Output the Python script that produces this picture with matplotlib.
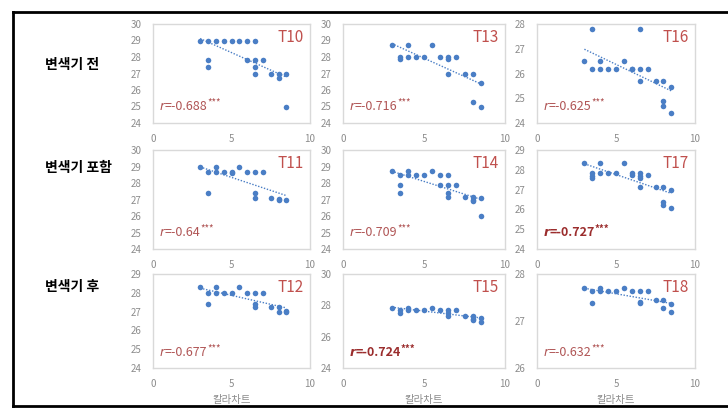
import matplotlib.pyplot as plt
import numpy as np
from matplotlib.lines import Line2D

plt.rcParams["font.family"] = ["Noto Sans CJK KR", "DejaVu Sans"]

ROW_LABELS = ["변색기 전", "변색기 포함", "변색기 후"]
PANEL_NAMES = [["T10", "T13", "T16"], ["T11", "T14", "T17"], ["T12", "T15", "T18"]]
R_LABELS = [["-0.688", "-0.716", "-0.625"], ["-0.64", "-0.709", "-0.727"], ["-0.677", "-0.724", "-0.632"]]
R_BOLD = [[False, False, False], [False, False, True], [False, True, False]]
Y_RANGES = [[(24, 30, 1), (24, 30, 1), (24, 28, 1)],
            [(24, 30, 1), (24, 30, 1), (24, 29, 1)],
            [(24, 29, 1), (24, 30, 2), (26, 28, 1)]]

X_T10 = [3, 3.5, 4, 4.5, 5, 5.5, 6, 6.5, 3.5, 3.5, 6, 6.5, 6.5, 6.5, 7, 7.5, 8, 8, 8.5, 8.5]
Y_T10 = [29, 29, 29, 29, 29, 29, 29, 29, 27.8, 27.4, 27.8, 27.8, 27.4, 27.0, 27.8, 27.0, 27.0, 26.7, 27.0, 25.0]

X_T13 = [3, 3.5, 3.5, 4, 4, 4.5, 5, 5.5, 6, 6.5, 6.5, 6.5, 7, 7.5, 8, 8, 8.5, 8.5]
Y_T13 = [28.7, 28.0, 27.9, 28.7, 28.0, 28.0, 28.0, 28.7, 28.0, 28.0, 27.9, 27.0, 28.0, 27.0, 27.0, 25.3, 26.4, 25.0]

X_T16 = [3, 3.5, 3.5, 4, 4, 4.5, 5, 5.5, 6, 6, 6.5, 6.5, 6.5, 7, 7.5, 8, 8, 8, 8.5, 8.5]
Y_T16 = [26.5, 27.8, 26.2, 26.5, 26.2, 26.2, 26.2, 26.5, 26.2, 26.2, 27.8, 26.2, 25.7, 26.2, 25.7, 25.7, 24.9, 24.7, 25.45, 24.4]

X_T11 = [3, 3.5, 3.5, 4, 4, 4.5, 5, 5, 5.5, 6, 6.5, 6.5, 6.5, 7, 7.5, 8, 8, 8.5]
Y_T11 = [29.0, 28.65, 27.4, 29.0, 28.65, 28.65, 28.65, 28.6, 29.0, 28.65, 28.65, 27.4, 27.1, 28.65, 27.1, 27.05, 27.0, 27.0]

X_T14 = [3, 3.5, 3.5, 3.5, 4, 4, 4.5, 5, 5.5, 6, 6, 6.5, 6.5, 6.5, 6.5, 7, 7.5, 8, 8, 8, 8.5, 8.5]
Y_T14 = [28.7, 28.5, 27.9, 27.4, 28.7, 28.5, 28.5, 28.5, 28.7, 28.5, 27.9, 28.5, 27.9, 27.4, 27.15, 27.9, 27.15, 27.15, 27.0, 26.9, 27.1, 26.0]

X_T17 = [3, 3.5, 3.5, 3.5, 4, 4, 4.5, 5, 5.5, 6, 6, 6.5, 6.5, 6.5, 6.5, 7, 7.5, 8, 8, 8, 8.5, 8.5]
Y_T17 = [28.35, 27.85, 27.7, 27.6, 28.35, 27.85, 27.85, 27.85, 28.35, 27.85, 27.75, 27.85, 27.7, 27.6, 27.15, 27.75, 27.15, 27.15, 26.35, 26.2, 27.0, 26.05]

X_T12 = [3, 3.5, 3.5, 4, 4, 4.5, 5, 5.5, 6, 6.5, 6.5, 6.5, 7, 7.5, 8, 8, 8.5, 8.5]
Y_T12 = [28.3, 28.0, 27.4, 28.3, 28.0, 28.0, 28.0, 28.3, 28.0, 28.0, 27.4, 27.25, 28.0, 27.25, 27.25, 27.0, 27.05, 27.0]

X_T15 = [3, 3.5, 3.5, 4, 4, 4.5, 5, 5.5, 6, 6.5, 6.5, 6.5, 7, 7.5, 8, 8, 8, 8.5, 8.5]
Y_T15 = [27.85, 27.7, 27.5, 27.85, 27.7, 27.7, 27.7, 27.85, 27.7, 27.7, 27.5, 27.3, 27.7, 27.3, 27.3, 27.1, 27.05, 27.2, 26.95]

X_T18 = [3, 3.5, 3.5, 4, 4, 4.5, 5, 5.5, 6, 6.5, 6.5, 6.5, 7, 7.5, 8, 8, 8.5, 8.5]
Y_T18 = [27.7, 27.64, 27.39, 27.7, 27.64, 27.64, 27.64, 27.7, 27.64, 27.64, 27.41, 27.38, 27.64, 27.44, 27.44, 27.28, 27.37, 27.2]

DATA = {
    "T10": (X_T10, Y_T10), "T13": (X_T13, Y_T13), "T16": (X_T16, Y_T16),
    "T11": (X_T11, Y_T11), "T14": (X_T14, Y_T14), "T17": (X_T17, Y_T17),
    "T12": (X_T12, Y_T12), "T15": (X_T15, Y_T15), "T18": (X_T18, Y_T18),
}

W, H = 728, 419
DOT = "#4A7EC5"
TITLE_RED = "#C0504D"
TICK_GRAY = "#8C8C8C"

# axes boxes in pixels (left, right) and (top, bottom)
COLS_PX = [(153, 310), (343, 505), (537, 695)]
ROWS_PX = [(24, 123), (150, 249), (274, 368)]

fig = plt.figure(figsize=(W / 100, H / 100), dpi=100)

# outer frame (top, left, bottom)
frame_kw = dict(color="black", lw=2, transform=fig.transFigure)
fig.add_artist(Line2D([13 / W, 1], [1 - 12 / H, 1 - 12 / H], **frame_kw))
fig.add_artist(Line2D([13 / W, 1], [1 - 406 / H, 1 - 406 / H], **frame_kw))
fig.add_artist(Line2D([13 / W, 13 / W], [1 - 12 / H, 1 - 406 / H], **frame_kw))

row_label_y = [65, 168, 287]
for label, yp in zip(ROW_LABELS, row_label_y):
    fig.text(45 / W, 1 - yp / H, label, fontsize=10, fontweight="bold", va="center", ha="left")

for i, (top, bottom) in enumerate(ROWS_PX):
    for j, (left, right) in enumerate(COLS_PX):
        ax = fig.add_axes([left / W, 1 - bottom / H, (right - left) / W, (bottom - top) / H])
        name = PANEL_NAMES[i][j]
        xs, ys = DATA[name]
        xs = np.array(xs)
        ys = np.array(ys)
        ax.scatter(xs, ys, s=16, color=DOT, zorder=3, linewidths=0)

        k, b = np.polyfit(xs, ys, 1)
        fx = np.array([xs.min(), xs.max()])
        ax.plot(fx, k * fx + b, ls=(0, (1, 1.2)), lw=1, color=DOT, zorder=2)

        ymin, ymax, step = Y_RANGES[i][j]
        ax.set_xlim(0, 10)
        ax.set_ylim(ymin, ymax)
        ax.set_xticks([0, 5, 10])
        ax.set_yticks(np.arange(ymin, ymax + 0.01, step))
        ax.tick_params(length=0, labelsize=7, labelcolor=TICK_GRAY, pad=8)
        for sp in ax.spines.values():
            sp.set_color("#D9D9D9")
            sp.set_linewidth(1)

        ax.text(0.96, 0.86, name, transform=ax.transAxes, ha="right", va="center",
                fontsize=11, color=TITLE_RED)

        bold = R_BOLD[i][j]
        rcol = "#9B2D2D" if bold else "#B05555"
        weight = "bold" if bold else "normal"
        r_txt = ax.text(0.04, 0.13, "r", transform=ax.transAxes, ha="left", va="baseline",
                        fontsize=9, color=rcol, fontweight=weight, fontstyle="italic",
                        family=["DejaVu Sans"])
        val_txt = ax.annotate("=" + R_LABELS[i][j], xy=(1, 0), xycoords=r_txt,
                              ha="left", va="bottom", fontsize=9, color=rcol, fontweight=weight)
        ax.annotate("***", xy=(1, 0.4), xycoords=val_txt, ha="left", va="bottom",
                    fontsize=7, color=rcol, fontweight=weight)

        if i == 2:
            ax.set_xlabel("칼라차트", fontsize=7.5, color=TICK_GRAY, labelpad=4)

plt.savefig("out.png", dpi=100)
plt.close(fig)
